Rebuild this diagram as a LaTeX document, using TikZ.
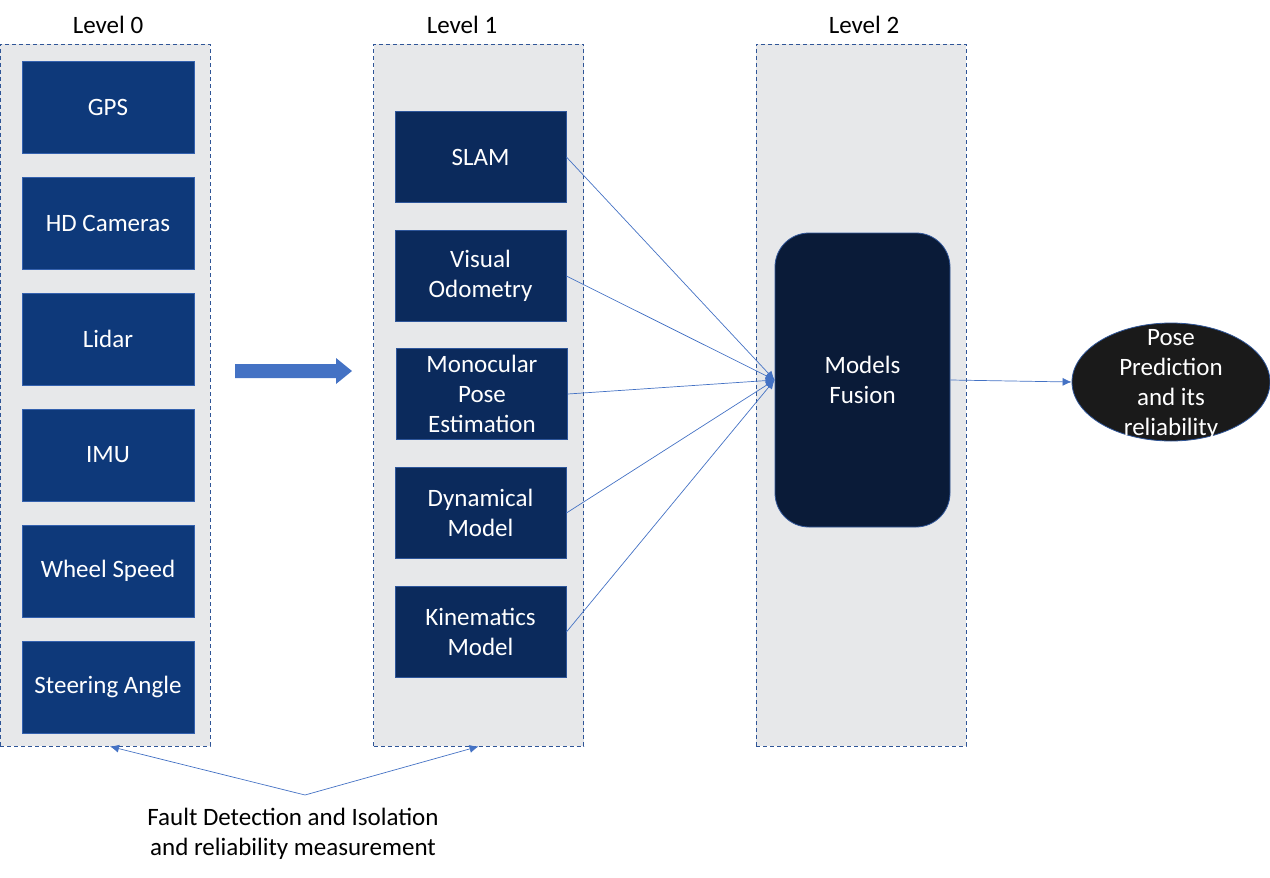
\documentclass[tikz,border=0pt]{standalone}
\usepackage{fontspec}
\setmainfont{Carlito}
\usetikzlibrary{arrows.meta,shapes.geometric}
\definecolor{panelgray}{RGB}{231,232,234}
\definecolor{dashblue}{RGB}{47,85,151}
\definecolor{boxA}{RGB}{14,57,122}
\definecolor{boxB}{RGB}{11,42,92}
\definecolor{fusionc}{RGB}{10,27,56}
\definecolor{linkblue}{RGB}{68,114,196}
\definecolor{ellc}{RGB}{26,26,26}
\tikzset{
  panel/.style={draw=dashblue, fill=panelgray, line width=0.9pt, dash pattern=on 4pt off 3pt, minimum width=210pt, minimum height=702pt, inner sep=0pt},
  lvl/.style={font=\fontsize{25}{30}\selectfont, text=black},
  txt/.style={font=\fontsize{25}{30}\selectfont, align=center},
  boxzero/.style={txt, draw=linkblue!70!boxA, fill=boxA, line width=0.8pt, minimum width=172pt, minimum height=92pt, inner sep=0pt, text=white},
  boxone/.style={txt, draw=linkblue!60!boxB, fill=boxB, line width=0.8pt, minimum width=171pt, minimum height=91pt, inner sep=0pt, text=white},
  link/.style={draw=linkblue, line width=0.7pt, -{Latex[length=9pt,width=8pt]}},
}
\begin{document}
\begin{tikzpicture}[x=1pt,y=-1pt]
\useasboundingbox (0,0) rectangle (1270,878);
% panels
\node[panel] (p0) at (105,395) {};
\node[panel] (p1) at (478.5,395) {};
\node[panel] (p2) at (861,395) {};
\node[lvl] (l0) at (108,25) {Level 0};
\node[lvl] (l1) at (462,25) {Level 1};
\node[lvl] (l2) at (864,25) {Level 2};
% level 0
\node[boxzero] (gps) at (108,107) {GPS};
\node[boxzero] (hd) at (108,223) {HD Cameras};
\node[boxzero] (lidar) at (108,339) {Lidar};
\node[boxzero] (imu) at (108,455) {IMU};
\node[boxzero] (wheel) at (108,571) {Wheel Speed};
\node[boxzero] (steer) at (108,687) {Steering Angle};
% level 1
\node[boxone] (slam) at (480.5,157) {SLAM};
\node[boxone] (vo) at (480.5,276) {Visual\\Odometry};
\node[boxone] (mono) at (482,394) {Monocular\\Pose\\Estimation};
\node[boxone] (dyn) at (480.5,513) {Dynamical\\Model};
\node[boxone] (kin) at (480.5,632) {Kinematics\\Model};
% big arrow
\fill[linkblue] (235,364) -- (336,364) -- (336,358) -- (352,371) -- (336,384) -- (336,378) -- (235,378) -- cycle;
% fusion
\node[txt, draw=linkblue!70!fusionc, fill=fusionc, line width=0.8pt, rounded corners=34pt, minimum width=175pt, minimum height=294pt, inner sep=0pt, text=white] (fusion) at (862.5,380) {Models\\Fusion};
% ellipse
\node[draw=dashblue, fill=ellc, line width=0.8pt, ellipse, minimum width=198pt, minimum height=118pt, inner sep=0pt] (pose) at (1171,382) {};
\node[txt, text=white] (posetxt) at (1171,384) {Pose\\Prediction\\and its\\reliability};
% connectors
\draw[link] (slam.east) -- (fusion.west);
\draw[link] (vo.east) -- (fusion.west);
\draw[link] (mono.east) -- (fusion.west);
\draw[link] (dyn.east) -- (fusion.west);
\draw[link] (kin.east) -- (fusion.west);
\draw[link] (fusion.east) -- (pose.west);
% fault detection
\coordinate (fdi) at (305,795);
\draw[link] (fdi) -- ([xshift=5pt]p0.south);
\draw[link] (fdi) -- (p1.south);
\node[txt, text=black] (fdt) at (293,834) {Fault Detection and Isolation\\and reliability measurement};
\end{tikzpicture}
\end{document}
